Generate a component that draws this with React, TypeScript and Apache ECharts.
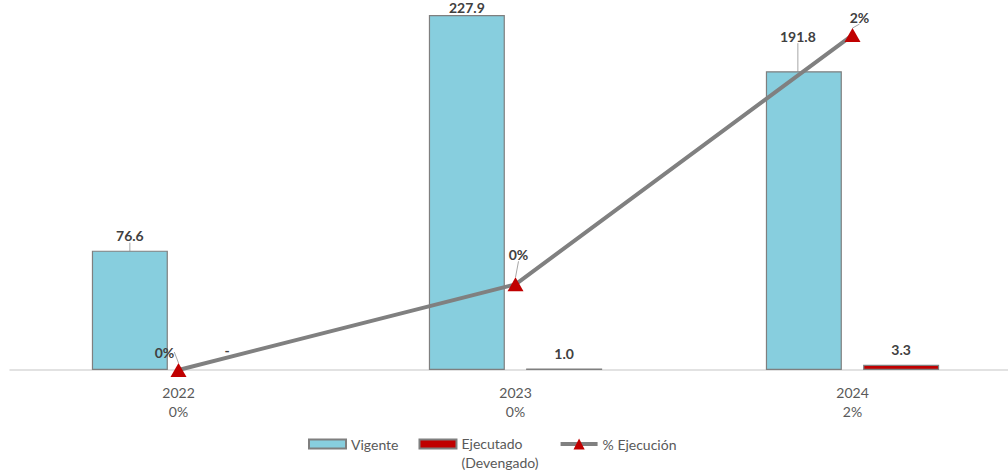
import React, { useEffect, useRef } from "react";
import * as echarts from "echarts";

const categories = ["2022", "2023", "2024"];
const vigente = [76.6, 227.9, 191.8];
const ejecutado = [0, 1.0, 3.3];
const ejecucionPct = [0, 0.44, 1.72];
const pctLabels = ["0%", "0%", "2%"];

const FONT = "Lato, 'Noto Sans', sans-serif";
const LABEL_COLOR = "#404040";
const AXIS_TEXT = "#595959";
const BAR_ICON = "path://M0,0H37V9H0Z";

export default function App() {
  const ref = useRef<HTMLDivElement>(null);
  useEffect(() => {
    document.body.style.margin = "0";
    const chart = echarts.init(ref.current!, null, { renderer: "svg" });
    chart.setOption({
      animation: false,
      textStyle: { fontFamily: FONT },
      grid: { left: 10, right: 0, top: 0, bottom: 102 },
      legend: {
        top: 431,
        left: 303,
        itemWidth: 37,
        itemHeight: 14,
        itemGap: 20,
        symbolKeepAspect: true,
        textStyle: {
          color: AXIS_TEXT,
          fontSize: 14,
          fontFamily: FONT,
          rich: {
            a: { color: AXIS_TEXT, fontSize: 14, fontFamily: FONT, lineHeight: 24 },
            b: { color: AXIS_TEXT, fontSize: 14, fontFamily: FONT, lineHeight: 2, verticalAlign: "top" },
          },
        },
        formatter: (name: string) =>
          name === "Ejecutado (Devengado)" ? "{a|Ejecutado}\n{b|(Devengado)}" : name,
        data: [
          { name: "Vigente", icon: BAR_ICON },
          { name: "Ejecutado (Devengado)", icon: BAR_ICON },
          { name: "% Ejecución", lineStyle: { width: 4 } },
        ],
      },
      xAxis: {
        type: "category",
        data: categories,
        axisLine: { lineStyle: { color: "#d9d9d9", width: 1.5 } },
        axisTick: { show: false },
        axisLabel: {
          color: AXIS_TEXT,
          fontSize: 14,
          lineHeight: 19,
          margin: 13,
          fontFamily: FONT,
          formatter: (v: string, i: number) => v + "\n" + pctLabels[i],
        },
      },
      yAxis: [
        { type: "value", min: 0, max: 237.5, show: false, splitLine: { show: false } },
        { type: "value", min: 0, max: 1.9, show: false, splitLine: { show: false } },
      ],
      series: [
        {
          name: "Vigente",
          type: "bar",
          data: vigente,
          barWidth: 76,
          barGap: "28%",
          itemStyle: { color: "#87CEDE", borderColor: "#7f7f7f", borderWidth: 1.2 },
          label: {
            show: true,
            position: "top",
            distance: 8,
            color: LABEL_COLOR,
            fontWeight: "bold",
            fontSize: 14,
            fontFamily: FONT,
            formatter: (p: any) => p.value.toFixed(1),
          },
          labelLayout: (p: any) =>
            p.dataIndex === 2 ? { dx: -6, dy: -20 } : p.dataIndex === 1 ? { dx: 0, dy: 8 } : {},
          labelLine: { show: true, lineStyle: { color: "#a6a6a6", width: 1 } },
        },
        {
          name: "Ejecutado (Devengado)",
          type: "bar",
          data: ejecutado.map((v) => (v === 0 ? { value: v, itemStyle: { borderWidth: 0 } } : v)),
          barWidth: 76,
          itemStyle: { color: "#C00000", borderColor: "#7f7f7f", borderWidth: 1.2 },
          label: {
            show: true,
            position: "top",
            distance: 8,
            color: LABEL_COLOR,
            fontWeight: "bold",
            fontSize: 14,
            fontFamily: FONT,
            formatter: (p: any) => (p.value === 0 ? "-" : p.value.toFixed(1)),
          },
          labelLayout: (p: any) => (p.dataIndex === 0 ? { dy: -5 } : {}),
          z: 6,
        },
        {
          name: "% Ejecución",
          type: "line",
          yAxisIndex: 1,
          data: ejecucionPct,
          symbol: "triangle",
          symbolSize: [16, 14],
          lineStyle: { color: "#808080", width: 4 },
          itemStyle: { color: "#C00000" },
          label: {
            show: true,
            position: "top",
            distance: 4,
            color: LABEL_COLOR,
            fontWeight: "bold",
            fontSize: 14,
            fontFamily: FONT,
            formatter: (p: any) => Math.round(p.value) + "%",
          },
          labelLayout: (p: any) =>
            p.dataIndex === 0 ? { dx: -14, dy: 0 } : p.dataIndex === 1 ? { dx: 3, dy: -12 } : { dx: 7, dy: 0 },
          labelLine: { show: true, lineStyle: { color: "#a6a6a6", width: 1 } },
          z: 5,
        },
      ],
    });
    return () => chart.dispose();
  }, []);
  return (
    <div style={{ width: 1008, height: 472, overflow: "hidden" }}>
      <div ref={ref} style={{ width: 1021, height: 472 }} />
    </div>
  );
}
